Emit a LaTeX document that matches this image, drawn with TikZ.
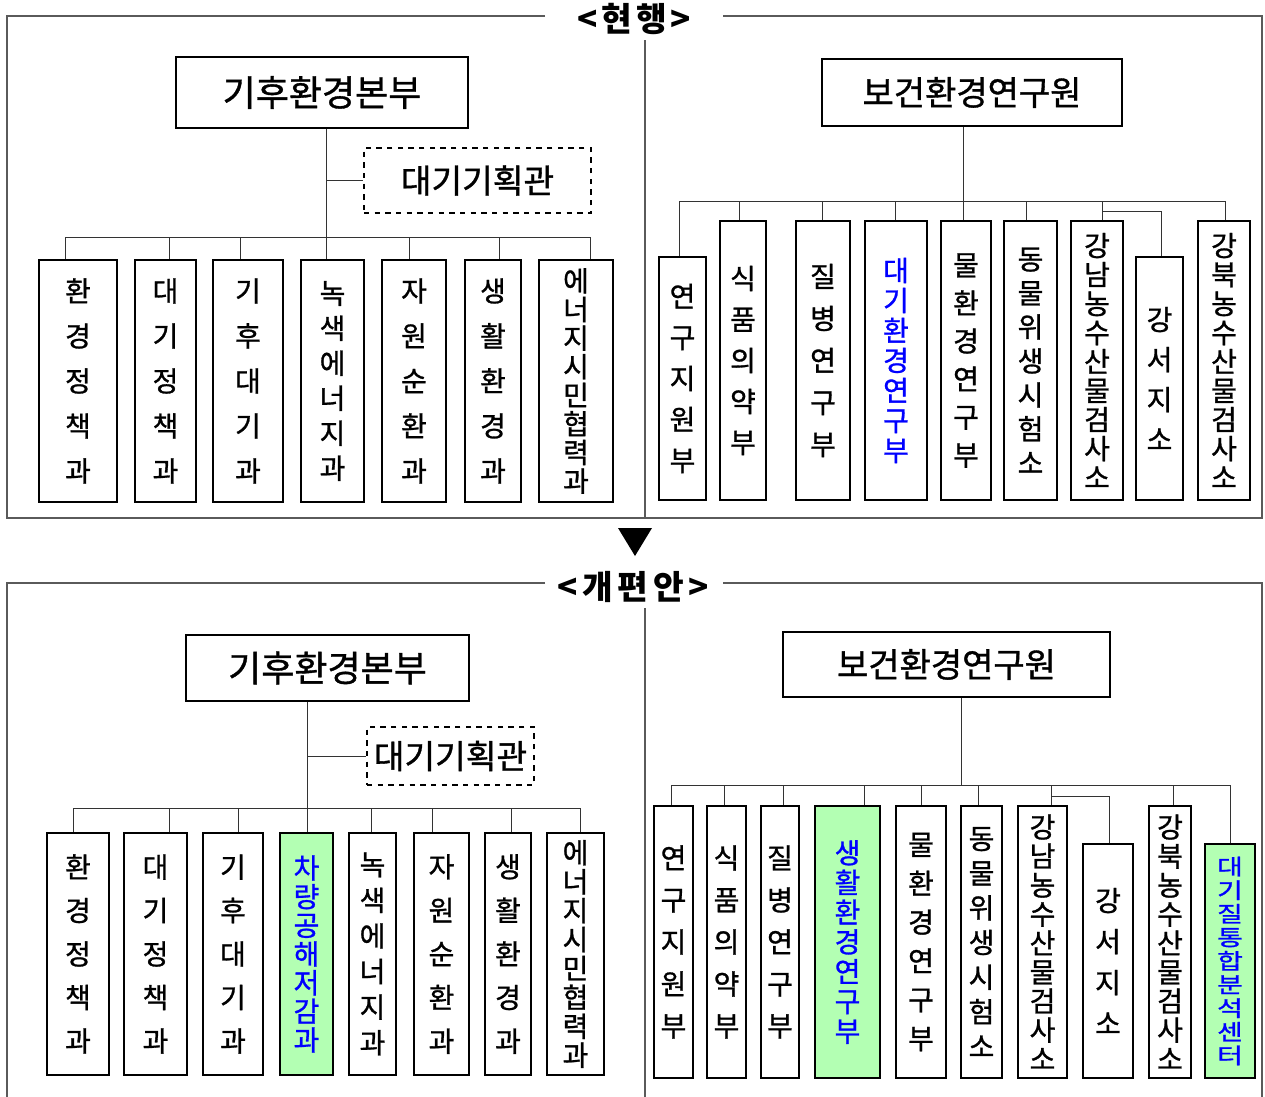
\documentclass[tikz,border=0pt]{standalone}
\usepackage{fontspec}
\usepackage{graphicx}
\newfontfamily\kr[FakeBold=1]{Noto Sans CJK KR}
\newfontfamily\krb{Noto Sans CJK KR}
\usepackage{tikz}
\definecolor{boxgreen}{RGB}{179,255,179}
\definecolor{txtblue}{RGB}{0,0,255}
\definecolor{framegray}{RGB}{90,90,90}
\lineskiplimit=-50pt

\begin{document}
\begin{tikzpicture}[x=0.75pt,y=0.75pt,yscale=-1,xscale=1,
  frameline/.style={draw=framegray, line width=0.9pt},
  link/.style={draw=black!80, line width=0.75pt},
  hqbox/.style={draw, line width=2.2pt, inner sep=0pt, font=\kr\fontsize{25.5}{28}\selectfont},
  planbox/.style={draw, line width=2.2pt, dash pattern=on 4pt off 4pt, inner sep=0pt, font=\kr\fontsize{25}{28}\selectfont},
  dept/.style={draw, line width=2.2pt, inner sep=0pt, align=center},
  boxsize/.style 2 args={minimum width=#1*0.75pt, minimum height=#2*0.75pt},
  lsp/.style={font=\kr\fontsize{21}{#1}\selectfont},
  newdept/.style={fill=boxgreen, text=txtblue},
  heading/.style={font=\krb\bfseries\fontsize{25}{28}\selectfont, inner sep=0pt}
]
\useasboundingbox (0,0) rectangle (1265,1097);

%Frames
\draw[frameline] (545,16) -- (7,16) -- (7,518) -- (1262,518) -- (1262,16) -- (723,16);
\draw[frameline] (645,40) -- (645,518);
\draw[frameline] (545,583) -- (7,583) -- (7,1097);
\draw[frameline] (723,583) -- (1262,583) -- (1262,1097);
\draw[frameline] (645,608) -- (645,1097);

% Text Node
\node[heading] (cur) at (634,19) {<\kern3pt 현\kern3pt 행\kern3pt >};
% Text Node
\node[heading] (new) at (633,587) {<\kern3.5pt 개\kern3.5pt 편\kern3.5pt 안\kern3.5pt >};
%Triangle
\fill (618,528) -- (652,528) -- (635,556) -- cycle;

%%%% current, left
\node[hqbox, boxsize={292}{71}, font=\kr\fontsize{27}{30}\selectfont] (ha) at (322,92.5) {기후환경본부};
\node[planbox, boxsize={227}{65}] (pa) at (477.5,180.5) {대기기획관};

\node[dept, boxsize={78}{242}, lsp=33.75] (a1) at (78,381) {환\\경\\정\\책\\과};
\node[dept, boxsize={61}{242}, lsp=33.75] (a2) at (165.5,381) {대\\기\\정\\책\\과};
\node[dept, boxsize={70}{242}, lsp=33.75] (a3) at (248,381) {기\\후\\대\\기\\과};
\node[dept, boxsize={63}{242}, lsp=26.25] (a4) at (332.5,381) {녹\\색\\에\\너\\지\\과};
\node[dept, boxsize={64}{242}, lsp=33.75] (a5) at (414,381) {자\\원\\순\\환\\과};
\node[dept, boxsize={56}{242}, lsp=33.75] (a6) at (493,381) {생\\활\\환\\경\\과};
\node[dept, boxsize={74}{242}, lsp=21.45] (a7) at (576,381) {에\\너\\지\\시\\민\\협\\력\\과};

%Straight Lines
\coordinate (ta) at (326,237);
\coordinate (pa1) at (65,237);
\coordinate (pa2) at (169,237);
\coordinate (pa3) at (240,237);
\coordinate (pa5) at (409,237);
\coordinate (pa6) at (499,237);
\coordinate (pa7) at (590,237);
\draw[link] (ta |- ha.south) -- (ta |- a4.north);
\draw[link] (pa.west) -- (pa.west -| ta);
\draw[link] (pa1) -- (pa7);
\draw[link] (pa1) -- (pa1 |- a1.north);
\draw[link] (pa2) -- (pa2 |- a2.north);
\draw[link] (pa3) -- (pa3 |- a3.north);
\draw[link] (pa5) -- (pa5 |- a5.north);
\draw[link] (pa6) -- (pa6 |- a6.north);
\draw[link] (pa7) -- (pa7 |- a7.north);

%%%% current, right
\node[hqbox, boxsize={300}{67}] (hr) at (972,92.5) {보건환경연구원};

\node[dept, boxsize={47}{243}, lsp=30.75] (b1) at (682.5,378.5) {연\\구\\지\\원\\부};
\node[dept, boxsize={46}{279}, lsp=30.75] (b2) at (743,360.5) {식\\품\\의\\약\\부};
\node[dept, boxsize={54}{279}, lsp=31.5] (b3) at (823,360.5) {질\\병\\연\\구\\부};
\node[dept, boxsize={62}{279}, lsp=22.5, text=txtblue] (b4) at (896,360.5) {대\\기\\환\\경\\연\\구\\부};
\node[dept, boxsize={50}{279}, lsp=28.5] (b5) at (966,360.5) {물\\환\\경\\연\\구\\부};
\node[dept, boxsize={53}{279}, lsp=25.5] (b6) at (1030.5,360.5) {동\\물\\위\\생\\시\\험\\소};
\node[dept, boxsize={52}{279}, lsp=21.75] (b7) at (1097,360.5) {강\\남\\농\\수\\산\\물\\검\\사\\소};
\node[dept, boxsize={47}{243}, lsp=30] (b8) at (1159.5,378.5) {강\\서\\지\\소};
\node[dept, boxsize={52}{279}, lsp=21.75] (b9) at (1224,360.5) {강\\북\\농\\수\\산\\물\\검\\사\\소};

%Straight Lines
\coordinate (tb) at (963,201);
\coordinate (pb1) at (679,201);
\coordinate (pb2) at (739,201);
\coordinate (pb3) at (822,201);
\coordinate (pb4) at (895,201);
\coordinate (pb6) at (1026,201);
\coordinate (pb7) at (1102,201);
\coordinate (pb9) at (1225,201);
\coordinate (kb) at (1161,211);
\draw[link] (tb |- hr.south) -- (tb |- b5.north);
\draw[link] (pb1) -- (pb9);
\draw[link] (pb1) -- (pb1 |- b1.north);
\draw[link] (pb2) -- (pb2 |- b2.north);
\draw[link] (pb3) -- (pb3 |- b3.north);
\draw[link] (pb4) -- (pb4 |- b4.north);
\draw[link] (pb6) -- (pb6 |- b6.north);
\draw[link] (pb7) -- (pb7 |- b7.north);
\draw[link] (pb9) -- (pb9 |- b9.north);
\draw[link] (kb -| pb7) -- (kb) -- (kb |- b8.north);

%%%% new, left
\node[hqbox, boxsize={283}{66}, font=\kr\fontsize{27}{30}\selectfont] (hb) at (327.5,668) {기후환경본부};
\node[planbox, boxsize={167}{58}] (pc) at (450.5,756) {대기기획관};

\node[dept, boxsize={62}{242}, lsp=32.6] (c1) at (78,954) {환\\경\\정\\책\\과};
\node[dept, boxsize={63}{242}, lsp=32.6] (c2) at (155.5,954) {대\\기\\정\\책\\과};
\node[dept, boxsize={60}{242}, lsp=32.6] (c3) at (233,954) {기\\후\\대\\기\\과};
\node[dept, newdept, boxsize={53}{242}, lsp=21.5] (c4) at (306.5,954) {차\\량\\공\\해\\저\\감\\과};
\node[dept, boxsize={47}{242}, lsp=26.7] (c5) at (372.5,954) {녹\\색\\에\\너\\지\\과};
\node[dept, boxsize={55}{242}, lsp=32.7] (c6) at (441.5,954) {자\\원\\순\\환\\과};
\node[dept, boxsize={46}{242}, lsp=32.7] (c7) at (508,954) {생\\활\\환\\경\\과};
\node[dept, boxsize={57}{242}, lsp=21.7] (c8) at (575.5,954) {에\\너\\지\\시\\민\\협\\력\\과};

%Straight Lines
\coordinate (tc) at (307,808);
\coordinate (pc1) at (73,808);
\coordinate (pc2) at (169,808);
\coordinate (pc3) at (238,808);
\coordinate (pc5) at (371,808);
\coordinate (pc6) at (432,808);
\coordinate (pc7) at (511,808);
\coordinate (pc8) at (580,808);
\draw[link] (tc |- hb.south) -- (tc |- c4.north);
\draw[link] (pc.west) -- (pc.west -| tc);
\draw[link] (pc1) -- (pc8);
\draw[link] (pc1) -- (pc1 |- c1.north);
\draw[link] (pc2) -- (pc2 |- c2.north);
\draw[link] (pc3) -- (pc3 |- c3.north);
\draw[link] (pc5) -- (pc5 |- c5.north);
\draw[link] (pc6) -- (pc6 |- c6.north);
\draw[link] (pc7) -- (pc7 |- c7.north);
\draw[link] (pc8) -- (pc8 |- c8.north);

%%%% new, right
\node[hqbox, boxsize={327}{65}] (hn) at (946.5,664.5) {보건환경연구원};

\node[dept, boxsize={39}{272}, lsp=31.5] (d1) at (673.5,942) {연\\구\\지\\원\\부};
\node[dept, boxsize={39}{272}, lsp=31.5] (d2) at (726.5,942) {식\\품\\의\\약\\부};
\node[dept, boxsize={38}{272}, lsp=31.5] (d3) at (780,942) {질\\병\\연\\구\\부};
\node[dept, newdept, boxsize={65}{272}, lsp=22.3] (d4) at (847.5,942) {생\\활\\환\\경\\연\\구\\부};
\node[dept, boxsize={50}{272}, lsp=29.1] (d5) at (921,942) {물\\환\\경\\연\\구\\부};
\node[dept, boxsize={41}{272}, lsp=26] (d6) at (981.5,942) {동\\물\\위\\생\\시\\험\\소};
\node[dept, boxsize={49}{272}, lsp=21.75] (d7) at (1042.5,942) {강\\남\\농\\수\\산\\물\\검\\사\\소};
\node[dept, boxsize={50}{234}, lsp=30.75] (d8) at (1108,961) {강\\서\\지\\소};
\node[dept, boxsize={42}{272}, lsp=21.75] (d9) at (1170,942) {강\\북\\농\\수\\산\\물\\검\\사\\소};
\node[dept, newdept, boxsize={50}{234}, lsp=22.7] (d10) at (1230,961) {\scalebox{1}[0.78]{\vbox{\hbox{대}\hbox{기}\hbox{질}\hbox{통}\hbox{합}\hbox{분}\hbox{석}\hbox{센}\hbox{터}}}};

%Straight Lines
\coordinate (td) at (961,785);
\coordinate (pd1) at (671,785);
\coordinate (pd2) at (724,785);
\coordinate (pd3) at (783,785);
\coordinate (pd4) at (864,785);
\coordinate (pd5) at (921,785);
\coordinate (pd6) at (978,785);
\coordinate (pd7) at (1051,785);
\coordinate (pd9) at (1173,785);
\coordinate (pd10) at (1230,785);
\coordinate (kd) at (1109,796);
\draw[link] (td |- hn.south) -- (td);
\draw[link] (pd1) -- (pd10);
\draw[link] (pd1) -- (pd1 |- d1.north);
\draw[link] (pd2) -- (pd2 |- d2.north);
\draw[link] (pd3) -- (pd3 |- d3.north);
\draw[link] (pd4) -- (pd4 |- d4.north);
\draw[link] (pd5) -- (pd5 |- d5.north);
\draw[link] (pd6) -- (pd6 |- d6.north);
\draw[link] (pd7) -- (pd7 |- d7.north);
\draw[link] (pd9) -- (pd9 |- d9.north);
\draw[link] (pd10) -- (pd10 |- d10.north);
\draw[link] (kd -| pd7) -- (kd) -- (kd |- d8.north);

\end{tikzpicture}
\end{document}
